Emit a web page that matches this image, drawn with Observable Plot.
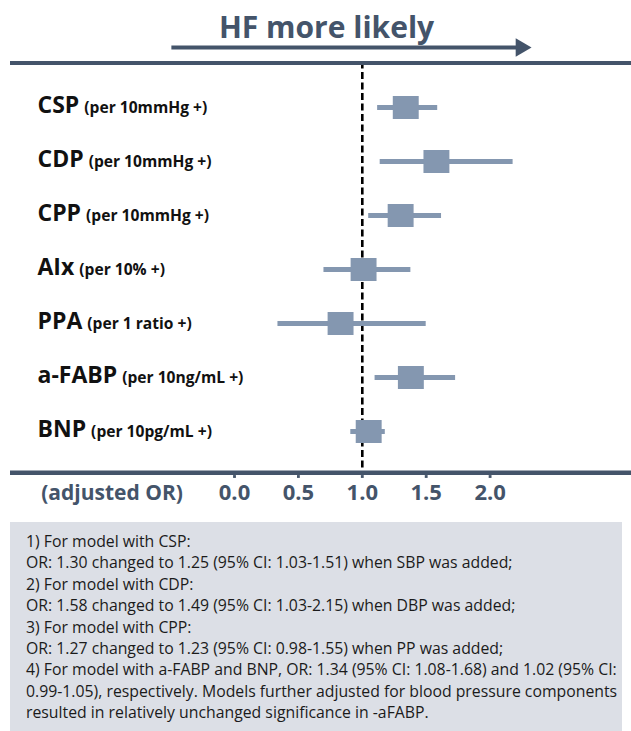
<!DOCTYPE html>
<html><head><meta charset="utf-8">
<script src="https://cdn.jsdelivr.net/npm/d3@7"></script>
<script src="https://cdn.jsdelivr.net/npm/@observablehq/plot@0.6"></script>
<style>
html,body{margin:0;padding:0;background:#fff;overflow:hidden;}
body{font-family:"Open Sans",sans-serif;}
#chart svg{display:block;}
#notes{position:absolute;left:10px;top:522px;width:596px;height:220px;background:#dcdfe6;padding:9px 0 0 16px;font-size:15.8px;line-height:21.4px;color:#1b1b1b;white-space:nowrap;overflow:hidden;}
</style></head><body>
<div id="chart"></div>
<div id="notes"></div>
<script>
// ---- data ----
const names = ["CSP", "CDP", "CPP", "AIx", "PPA", "a-FABP", "BNP"];
const units = ["(per 10mmHg +)", "(per 10mmHg +)", "(per 10mmHg +)", "(per 10% +)", "(per 1 ratio +)", "(per 10ng/mL +)", "(per 10pg/mL +)"];
const oddsRatio = [1.34, 1.58, 1.30, 1.01, 0.83, 1.38, 1.05];
const ciLow     = [1.12, 1.14, 1.05, 0.70, 0.34, 1.10, 0.91];
const ciHigh    = [1.59, 2.18, 1.62, 1.38, 1.50, 1.73, 1.18];
const tickValues = [0, 0.5, 1, 1.5, 2];
const axisLabel = "(adjusted OR)";
const titleText = "HF more likely";
const arrowSpan = [-0.49, 2.32];
const noteLines = [
  "1) For model with CSP:",
  "OR: 1.30 changed to 1.25 (95% CI: 1.03-1.51) when SBP was added;",
  "2) For model with CDP:",
  "OR: 1.58 changed to 1.49 (95% CI: 1.03-2.15) when DBP was added;",
  "3) For model with CPP:",
  "OR: 1.27 changed to 1.23 (95% CI: 0.98-1.55) when PP was added;",
  "4) For model with a-FABP and BNP, OR: 1.34 (95% CI: 1.08-1.68) and 1.02 (95% CI:",
  "0.99-1.05), respectively. Models further adjusted for blood pressure components",
  "resulted in relatively unchanged significance in -aFABP."
];

// ---- build ----
const rows = names.map((name, i) => ({name, unit: units[i], or: oddsRatio[i], lo: ciLow[i], hi: ciHigh[i]}));
const arrowData = [{from: arrowSpan[0], to: arrowSpan[1]}];
const lineColor = "#44546a";
const boxColor = "#8497b0";
const textDark = "#111111";
const rectSymbol = {draw(context, size) { const s = Math.sqrt(size); context.rect(-s * 0.53, -s * 0.47, s * 1.06, s * 0.94); }};

const W = 631, H = 515;
const px0 = 234, slope = 127.8;
const chart = Plot.plot({
  width: W, height: H,
  marginLeft: 10, marginRight: 0, marginTop: 61.5, marginBottom: 42.5,
  style: {fontFamily: "'Open Sans', sans-serif", background: "white", overflow: "visible"},
  x: {domain: [(10 - px0) / slope, (W - px0) / slope], axis: null},
  y: {type: "point", domain: names, padding: 0.79, align: 0.52, axis: null},
  marks: [
    Plot.ruleX([1], {stroke: "#000", strokeWidth: 2.6, strokeDasharray: "7,3.5"}),
    Plot.ruleY([names[0]], {dy: -44.5, stroke: lineColor, strokeWidth: 4}),
    Plot.ruleY([names[names.length - 1]], {dy: 41.2, stroke: lineColor, strokeWidth: 4.5}),
    Plot.ruleY(rows, {y: "name", x1: "lo", x2: "hi", stroke: boxColor, strokeWidth: 5}),
    Plot.dot(rows, {x: "or", y: "name", r: 13.8, symbol: rectSymbol, fill: boxColor, stroke: "none"}),
    Plot.text(rows, {y: "name", text: "name", frameAnchor: "left", dx: 27, dy: -2, textAnchor: "start", fontSize: 23, fontWeight: "bold", fill: textDark}),
    Plot.text(tickValues, {x: d => d, text: d => d.toFixed(1), frameAnchor: "bottom", dy: 26.5, fontSize: 22, fontWeight: "bold", fill: lineColor}),
    Plot.dot(tickValues, {x: d => d, frameAnchor: "bottom", dy: 3.5, symbol: "square", r: 1.6, fill: lineColor}),
    Plot.text([axisLabel], {frameAnchor: "bottom-left", dx: 30.7, dy: 26.5, textAnchor: "start", fontSize: 21, fontWeight: "bold", fill: lineColor}),
    Plot.text([titleText], {frameAnchor: "top", dx: 5.5, dy: -45, fontSize: 30, fontWeight: "bold", fill: lineColor}),
    Plot.ruleY(arrowData, {y: () => names[0], x1: "from", x2: d => d.to - 0.08, dy: -60, stroke: lineColor, strokeWidth: 4}),
    Plot.dot(arrowData, {y: () => names[0], x: "to", dx: -10, dy: -60, symbol: "triangle", rotate: 90, r: 6.8, fill: lineColor, stroke: "none"})
  ]
});

d3.select(chart).selectAll("text").each(function() {
  const i = names.indexOf(this.textContent);
  if (i >= 0) d3.select(this).append("tspan").attr("dx", 5).attr("font-size", 15.6).text(units[i]);
});
document.getElementById("chart").appendChild(chart);

const notes = d3.select("#notes");
notes.selectAll("div").data(noteLines).join("div").text(d => d);
</script>
</body></html>
